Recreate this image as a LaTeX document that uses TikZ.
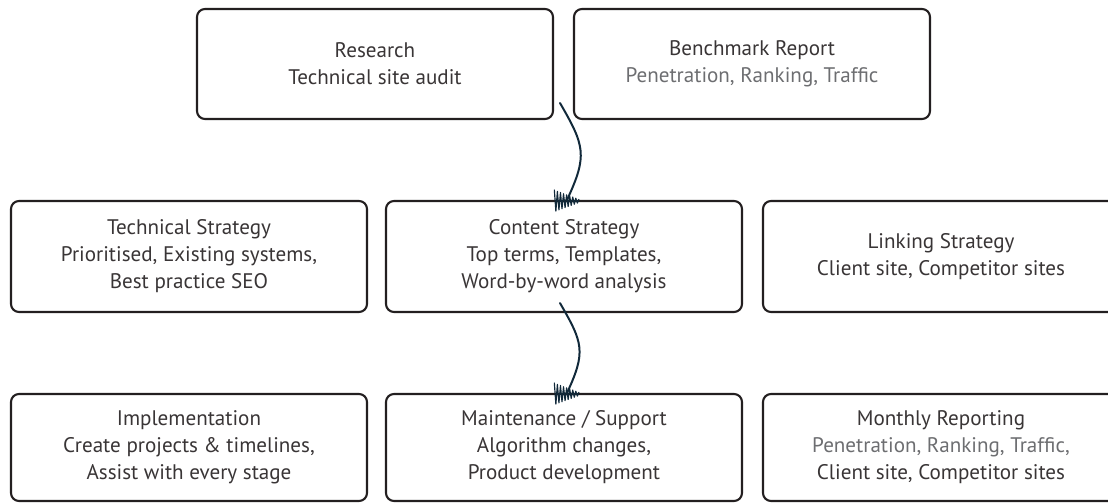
\documentclass[tikz,border=0pt]{standalone}
\usepackage{fontspec}
\setmainfont{PT Sans}
\usepackage{tikz}
\usetikzlibrary{
    arrows.meta,
    positioning,
    calc
}
\definecolor{inkblack}{HTML}{231F20}
\definecolor{penblue}{HTML}{11293A}
\definecolor{litegrey}{HTML}{6D6E71}
\tikzstyle{stage} = [
    draw=inkblack,
    line width=1.8pt,
    rounded corners=0.24cm,
    minimum width=10.68cm,
    minimum height=3.3cm,
    align=center,
    text=inkblack!90,
    font=\fontsize{18}{23}\selectfont
]
\tikzstyle{pen} = [
    draw=penblue,
    line width=1.7pt,
    line cap=round
]
\tikzset{
    pics/scribble/.style={code={
        \draw[pen, line width=1pt, line join=round]
            (-0.38,0.3) \foreach \i in {1,...,16}{
                -- ({-0.38+0.046*\i},{-0.03+(1-2*mod(\i,2))*(0.32-0.017*\i)})
            };
    }}
}
\newcommand{\lite}[1]{{\color{litegrey}#1}}

\begin{document}
\begin{tikzpicture}
        \clip (0,0) rectangle (33.24,15.12);

        % Top row
        \node[stage] (research) at (11.25,13.2) {Research\\Technical site audit};
        \node[stage] (bench) at (22.56,13.2) {Benchmark Report\\\lite{Penetration, Ranking, Traffic}};

        % Strategy row
        \node[stage, minimum height=3.33cm] (technical) at (5.67,7.425)
            {Technical Strategy\\Prioritised, Existing systems,\\Best practice SEO};
        \node[stage, minimum height=3.33cm] (content) at (16.92,7.425)
            {Content Strategy\\Top terms, Templates,\\Word-by-word analysis};
        \node[stage, minimum height=3.33cm] (linking) at (28.23,7.425)
            {Linking Strategy\\Client site, Competitor sites};

        % Delivery row
        \node[stage, minimum height=3.21cm] (implement) at (5.67,1.695)
            {Implementation\\Create projects \& timelines,\\Assist with every stage};
        \node[stage, minimum height=3.21cm] (maintain) at (16.92,1.695)
            {Maintenance / Support\\Algorithm changes,\\Product development};
        \node[stage, minimum height=3.21cm] (monthly) at (28.23,1.695)
            {Monthly Reporting\\\lite{Penetration, Ranking, Traffic,}\\Client site, Competitor sites};

        % Hand-drawn arrows
        \coordinate (a1) at (16.8,12.03);
        \coordinate (a2) at ([shift={(-0.12,0.3)}]content.south);
        \draw[pen] (a1) to[out=-60,in=65,looseness=1.3] ([xshift=0.09cm]content.north) pic {scribble};
        \draw[pen] (a2) to[out=-60,in=65,looseness=1.3] ([xshift=0.09cm]maintain.north) pic {scribble};
    \end{tikzpicture}
\end{document}
